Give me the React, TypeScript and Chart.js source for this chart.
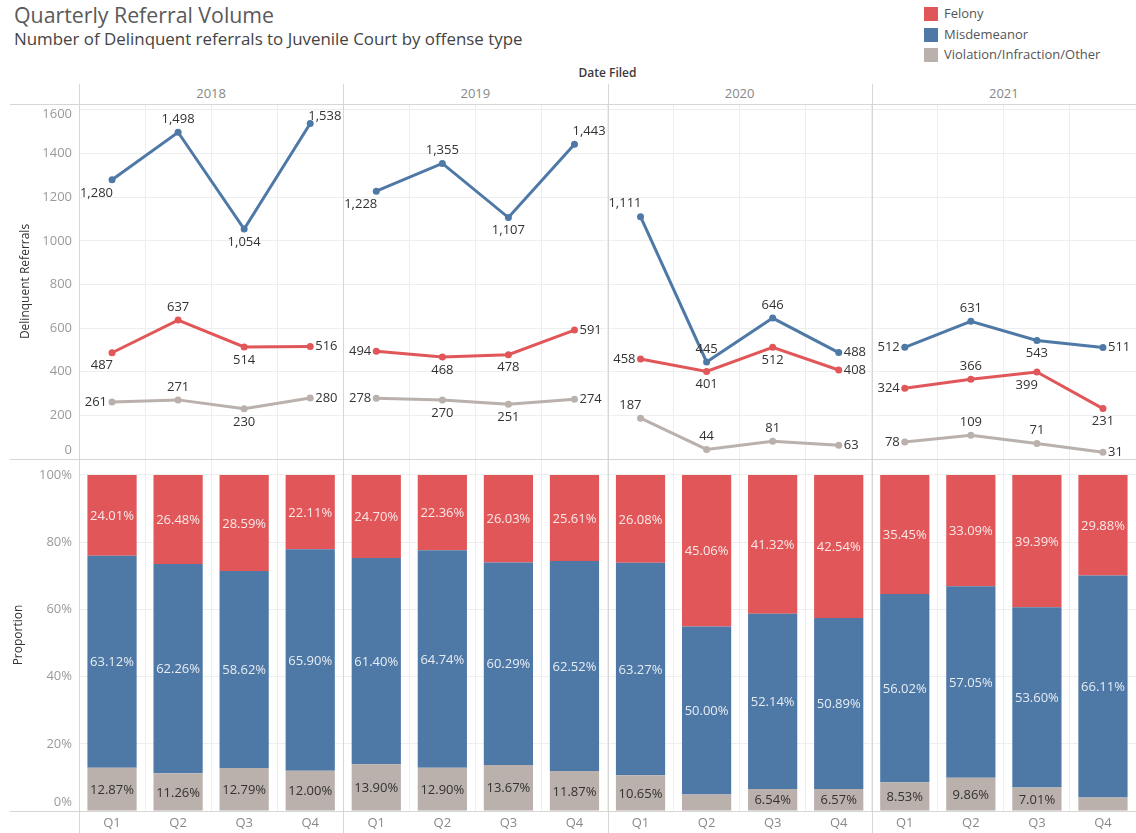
import React, { useEffect, useRef } from 'react';
import { Chart, registerables } from 'chart.js';

Chart.register(...registerables);

const FONT = '"Open Sans", "DejaVu Sans", sans-serif';

// ---------- data ----------
const years = ['2018', '2019', '2020', '2021'];
const quarters = ['Q1', 'Q2', 'Q3', 'Q4'];
const categories = years.flatMap((y) => quarters.map((q) => `${y} ${q}`));

const misdemeanorCounts = [1280, 1498, 1054, 1538, 1228, 1355, 1107, 1443, 1111, 445, 646, 488, 512, 631, 543, 511];
const felonyCounts = [487, 637, 514, 516, 494, 468, 478, 591, 458, 401, 512, 408, 324, 366, 399, 231];
const violationCounts = [261, 271, 230, 280, 278, 270, 251, 274, 187, 44, 81, 63, 78, 109, 71, 31];

const felonyShare = [24.01, 26.48, 28.59, 22.11, 24.7, 22.36, 26.03, 25.61, 26.08, 45.06, 41.32, 42.54, 35.45, 33.09, 39.39, 29.88];
const misdemeanorShare = [63.12, 62.26, 58.62, 65.9, 61.4, 64.74, 60.29, 62.52, 63.27, 50.0, 52.14, 50.89, 56.02, 57.05, 53.6, 66.11];
const violationShare = [12.87, 11.26, 12.79, 12.0, 13.9, 12.9, 13.67, 11.87, 10.65, 4.94, 6.54, 6.57, 8.53, 9.86, 7.01, 4.01];

const countTicks = [0, 200, 400, 600, 800, 1000, 1200, 1400, 1600];
const shareTicks = [0, 20, 40, 60, 80, 100];

// label placement (style, not data): a=above b=below l=left r=right, combos
const misdemeanorLabelSide = ['bl', 'a', 'b', 'ar', 'bl', 'a', 'b', 'ar', 'al', 'a', 'a', 'r', 'l', 'a', 'b', 'r'];
const felonyLabelSide = ['bl', 'a', 'b', 'r', 'l', 'b', 'b', 'r', 'l', 'b', 'b', 'r', 'l', 'a', 'bl', 'b'];
const violationLabelSide = ['l', 'a', 'b', 'r', 'l', 'b', 'b', 'r', 'al', 'a', 'a', 'r', 'l', 'a', 'a', 'r'];

// ---------- styles ----------
const COLOR_FELONY = '#E15759';
const COLOR_MISD = '#4E79A7';
const COLOR_VIOL = '#BAB0AC';
const GRID = '#eeeeee';
const SEP = '#d6d6d6';

const PAGE_W = 1136;
const PAGE_H = 833;
const PLOT_LEFT = 79;
const TOP_Y = 104;
const MID_Y = 459;
const BASE_Y = 811;
const PANEL_W = (PAGE_W - PLOT_LEFT) / 4;

const TOP_MAX = (1600 * (MID_Y - TOP_Y)) / (MID_Y - 110);
const BOT_MAX = (100 * (BASE_Y - MID_Y)) / (BASE_Y - 475);

const fmt = (v: number) => v.toLocaleString('en-US');

function placeLabel(side: string, x: number, y: number) {
  switch (side) {
    case 'a':
      return { x, y: y - 13, align: 'center' as CanvasTextAlign };
    case 'b':
      return { x, y: y + 13, align: 'center' as CanvasTextAlign };
    case 'l':
      return { x: x - 5, y, align: 'right' as CanvasTextAlign };
    case 'r':
      return { x: x + 5, y, align: 'left' as CanvasTextAlign };
    case 'bl':
      return { x: x + 1, y: y + 13, align: 'right' as CanvasTextAlign };
    case 'al':
      return { x: x + 1, y: y - 13, align: 'right' as CanvasTextAlign };
    case 'ar':
      return { x: x - 2, y: y - 13, align: 'left' as CanvasTextAlign };
    default:
      return { x, y, align: 'center' as CanvasTextAlign };
  }
}

function drawYTicks(chart: any, ticks: number[], fmtTick: (v: number) => string) {
  const { ctx, chartArea, scales } = chart;
  ctx.save();
  ctx.font = `13px ${FONT}`;
  ctx.fillStyle = '#9a9a9a';
  ctx.textAlign = 'right';
  ctx.textBaseline = 'middle';
  for (const v of ticks) {
    let py = scales.y.getPixelForValue(v);
    py = Math.min(Math.max(py, chartArea.top + 10), chartArea.bottom - 8.5);
    ctx.fillText(fmtTick(v), 72, py);
  }
  ctx.restore();
}

function drawAxisTitle(chart: any, text: string, x: number) {
  const { ctx, chartArea } = chart;
  ctx.save();
  ctx.translate(x, (chartArea.top + chartArea.bottom) / 2);
  ctx.rotate(-Math.PI / 2);
  ctx.font = `12px ${FONT}`;
  ctx.fillStyle = '#333333';
  ctx.textAlign = 'center';
  ctx.textBaseline = 'middle';
  ctx.fillText(text, 0, 0);
  ctx.restore();
}

const topDecor = {
  id: 'topDecor',
  afterDatasetsDraw(chart: any) {
    const { ctx, chartArea } = chart;
    ctx.save();
    ctx.font = `13px ${FONT}`;
    ctx.fillStyle = '#333333';
    ctx.textBaseline = 'middle';
    chart.data.datasets.forEach((ds: any, di: number) => {
      const meta = chart.getDatasetMeta(di);
      meta.data.forEach((pt: any, i: number) => {
        const p = placeLabel(ds.labelSide[i], pt.x, pt.y);
        const y = Math.max(p.y, chartArea.top + 12);
        ctx.textAlign = p.align;
        ctx.fillText(fmt(ds.data[i]), p.x, y);
      });
    });
    ctx.restore();
  },
  afterDraw(chart: any) {
    drawYTicks(chart, countTicks, (v) => String(v));
    drawAxisTitle(chart, 'Delinquent Referrals', 26);
  },
};

const bottomDecor = {
  id: 'bottomDecor',
  afterDatasetsDraw(chart: any) {
    const { ctx } = chart;
    ctx.save();
    ctx.font = `13px ${FONT}`;
    ctx.textAlign = 'center';
    ctx.textBaseline = 'middle';
    chart.data.datasets.forEach((ds: any, di: number) => {
      const meta = chart.getDatasetMeta(di);
      meta.data.forEach((bar: any, i: number) => {
        const v = ds.data[i];
        if (v < 5) return;
        const { x, y, base } = bar.getProps(['x', 'y', 'base'], true);
        ctx.fillStyle = ds.labelColor;
        ctx.fillText(v.toFixed(2) + '%', x, (y + base) / 2 + 1);
      });
    });
    ctx.restore();
  },
  afterDraw(chart: any) {
    const { ctx, chartArea, scales } = chart;
    drawYTicks(chart, shareTicks, (v) => `${v}%`);
    drawAxisTitle(chart, 'Proportion', 19);
    ctx.save();
    ctx.font = `13px ${FONT}`;
    ctx.fillStyle = '#8a8a8a';
    ctx.textAlign = 'center';
    ctx.textBaseline = 'middle';
    categories.forEach((_, i) => {
      ctx.fillText(quarters[i % 4], scales.x.getPixelForValue(i), chartArea.bottom + 12.5);
    });
    ctx.restore();
  },
};

const hiddenX = {
  offset: true,
  grid: { offset: true, color: GRID, drawTicks: false },
  border: { display: false },
  ticks: { display: false },
  afterFit: (s: any) => {
    s.height = 0;
  },
};

function lineDataset(label: string, data: number[], color: string, sides: string[], order: number) {
  return {
    label,
    data,
    labelSide: sides,
    order,
    borderColor: color,
    backgroundColor: color,
    borderWidth: 3,
    tension: 0,
    pointRadius: 3.5,
    pointBorderWidth: 0,
    pointBackgroundColor: color,
    segment: {
      borderColor: (c: any) => (c.p0DataIndex % 4 === 3 ? 'rgba(0,0,0,0)' : color),
    },
  };
}

export default function App() {
  const topRef = useRef<HTMLCanvasElement>(null);
  const botRef = useRef<HTMLCanvasElement>(null);

  useEffect(() => {
    const top = new Chart(topRef.current as HTMLCanvasElement, {
      type: 'line',
      data: {
        labels: categories,
        datasets: [
          lineDataset('Misdemeanor', misdemeanorCounts, COLOR_MISD, misdemeanorLabelSide, 1),
          lineDataset('Felony', felonyCounts, COLOR_FELONY, felonyLabelSide, 2),
          lineDataset('Violation/Infraction/Other', violationCounts, COLOR_VIOL, violationLabelSide, 3),
        ] as any,
      },
      options: {
        animation: false,
        responsive: false,
        maintainAspectRatio: false,
        layout: { padding: 0, autoPadding: false },
        plugins: { legend: { display: false }, tooltip: { enabled: false } },
        scales: {
          x: hiddenX as any,
          y: {
            min: 0,
            max: TOP_MAX,
            afterBuildTicks: (s: any) => {
              s.ticks = countTicks.map((v) => ({ value: v }));
            },
            grid: { color: GRID, drawTicks: false },
            border: { display: false },
            ticks: { display: false },
            afterFit: (s: any) => {
              s.width = PLOT_LEFT;
            },
          },
        },
      },
      plugins: [topDecor],
    });

    const bottom = new Chart(botRef.current as HTMLCanvasElement, {
      type: 'bar',
      data: {
        labels: categories,
        datasets: [
          { label: 'Violation/Infraction/Other', data: violationShare, backgroundColor: COLOR_VIOL, labelColor: '#333333' },
          { label: 'Misdemeanor', data: misdemeanorShare, backgroundColor: COLOR_MISD, labelColor: 'rgba(255,255,255,0.86)' },
          { label: 'Felony', data: felonyShare, backgroundColor: COLOR_FELONY, labelColor: 'rgba(255,255,255,0.86)' },
        ] as any,
      },
      options: {
        animation: false,
        responsive: false,
        maintainAspectRatio: false,
        layout: { padding: { left: 0, right: 0, top: 0, bottom: PAGE_H - BASE_Y }, autoPadding: false },
        plugins: { legend: { display: false }, tooltip: { enabled: false } },
        datasets: { bar: { categoryPercentage: 1, barPercentage: 0.745, borderWidth: 0 } },
        scales: {
          x: { ...(hiddenX as any), stacked: true },
          y: {
            stacked: true,
            min: 0,
            max: BOT_MAX,
            afterBuildTicks: (s: any) => {
              s.ticks = shareTicks.map((v) => ({ value: v }));
            },
            grid: { color: GRID, drawTicks: false },
            border: { display: false },
            ticks: { display: false },
            afterFit: (s: any) => {
              s.width = PLOT_LEFT;
            },
          },
        },
      },
      plugins: [bottomDecor],
    });

    return () => {
      top.destroy();
      bottom.destroy();
    };
  }, []);

  const text = (fs: number, baseline: number): React.CSSProperties => ({
    position: 'absolute',
    top: baseline - 0.888 * fs,
    fontSize: fs,
    lineHeight: `${fs}px`,
    whiteSpace: 'nowrap',
  });

  const legendItems = [
    { label: 'Felony', color: COLOR_FELONY },
    { label: 'Misdemeanor', color: COLOR_MISD },
    { label: 'Violation/Infraction/Other', color: COLOR_VIOL },
  ];

  return (
    <div
      style={{
        position: 'absolute',
        left: 0,
        top: 0,
        width: PAGE_W,
        height: PAGE_H,
        background: '#ffffff',
        overflow: 'hidden',
        fontFamily: FONT,
      }}
    >
      <div style={{ ...text(21.3, 22.5), left: 14, color: '#5a5a5a' }}>Quarterly Referral Volume</div>
      <div style={{ ...text(16.9, 46.5), left: 14, color: '#444444' }}>
        Number of Delinquent referrals to Juvenile Court by offense type
      </div>

      {legendItems.map((it, i) => (
        <React.Fragment key={it.label}>
          <div
            style={{
              position: 'absolute',
              left: 924,
              top: 7 + i * 20.5,
              width: 14,
              height: 14,
              background: it.color,
            }}
          />
          <div style={{ ...text(13, 19 + i * 20.5), left: 944, color: '#555555' }}>{it.label}</div>
        </React.Fragment>
      ))}

      <div
        style={{
          ...text(12, 78),
          left: PLOT_LEFT + PANEL_W * 2 - 60,
          width: 120,
          textAlign: 'center',
          fontWeight: 600,
          color: '#3a3a3a',
        }}
      >
        Date Filed
      </div>

      {years.map((y, i) => (
        <div
          key={y}
          style={{
            ...text(13, 99),
            left: PLOT_LEFT + PANEL_W * (i + 0.5) - 50,
            width: 100,
            textAlign: 'center',
            color: '#888888',
          }}
        >
          {y}
        </div>
      ))}

      <canvas
        ref={topRef}
        width={PAGE_W}
        height={MID_Y - TOP_Y}
        style={{ position: 'absolute', left: 0, top: TOP_Y, width: PAGE_W, height: MID_Y - TOP_Y }}
      />
      <canvas
        ref={botRef}
        width={PAGE_W}
        height={PAGE_H - MID_Y}
        style={{ position: 'absolute', left: 0, top: MID_Y, width: PAGE_W, height: PAGE_H - MID_Y }}
      />

      {[TOP_Y, MID_Y, BASE_Y].map((y) => (
        <div
          key={'h' + y}
          style={{ position: 'absolute', left: 10, top: y, width: PAGE_W - 10, height: 1, background: SEP }}
        />
      ))}
      {[0, 1, 2, 3].map((i) => (
        <div
          key={'v' + i}
          style={{
            position: 'absolute',
            left: Math.round(PLOT_LEFT + PANEL_W * i),
            top: 84,
            width: 1,
            height: PAGE_H - 84,
            background: SEP,
          }}
        />
      ))}
    </div>
  );
}
